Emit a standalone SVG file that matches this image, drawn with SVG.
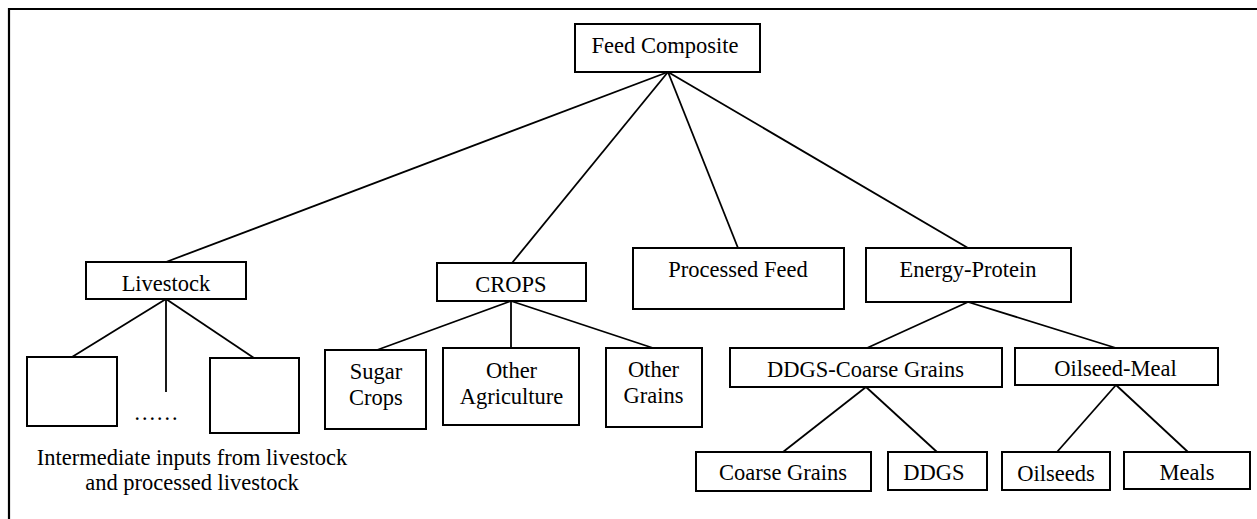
<svg xmlns="http://www.w3.org/2000/svg" width="1257" height="519" viewBox="0 0 1257 519">
<style>
.box{fill:#fff;stroke:#000;stroke-width:2}
.ln{stroke:#000;stroke-width:1.8;fill:none}
.t{font-family:'Liberation Serif','Times New Roman',Times,serif;font-size:22.5px;fill:#000;text-anchor:middle}
</style>
<rect width="1257" height="519" fill="#fff"/>
<path d="M9,519 V9 H1257" fill="none" stroke="#000" stroke-width="2.2"/>
<g id="connectors" class="ln">
<line x1="668" y1="72" x2="166" y2="262"/>
<line x1="668" y1="72" x2="512" y2="263"/>
<line x1="668" y1="72" x2="738" y2="248"/>
<line x1="668" y1="72" x2="968" y2="248"/>
<line x1="166" y1="299" x2="72" y2="357"/>
<line x1="166" y1="299" x2="166" y2="392"/>
<line x1="166" y1="299" x2="254" y2="358"/>
<line x1="511" y1="301" x2="377" y2="350"/>
<line x1="511" y1="301" x2="511" y2="348"/>
<line x1="511" y1="301" x2="653" y2="348"/>
<line x1="968" y1="302" x2="867" y2="348"/>
<line x1="968" y1="302" x2="1116" y2="348"/>
<line x1="866" y1="387" x2="783" y2="452"/>
<line x1="866" y1="387" x2="937" y2="452"/>
<line x1="1116" y1="385" x2="1057" y2="452"/>
<line x1="1116" y1="385" x2="1188" y2="452"/>
</g>
<g class="t" font-family="Liberation Serif, serif">
<g id="feed-composite"><rect class="box" x="575" y="24" width="185" height="48"/><text x="665" y="53">Feed Composite</text></g>
<g id="livestock"><rect class="box" x="86" y="262" width="160" height="37"/><text x="166" y="291">Livestock</text></g>
<g id="livestock-a"><rect class="box" x="27" y="357" width="90" height="69"/></g>
<g id="livestock-b"><rect class="box" x="210" y="358" width="89" height="75"/></g>
<g id="livestock-dots"><text x="156" y="420">……</text></g>
<g id="livestock-caption"><text x="192" y="465">Intermediate inputs from livestock</text><text x="192" y="490">and processed livestock</text></g>
<g id="crops"><rect class="box" x="437" y="263" width="149" height="38"/><text x="511" y="292">CROPS</text></g>
<g id="sugar-crops"><rect class="box" x="325" y="350" width="101" height="79"/><text x="376" y="379">Sugar</text><text x="376" y="405">Crops</text></g>
<g id="other-agriculture"><rect class="box" x="443" y="348" width="136" height="77"/><text x="511.5" y="378">Other</text><text x="511.5" y="404">Agriculture</text></g>
<g id="other-grains"><rect class="box" x="606" y="348" width="96" height="79"/><text x="653.5" y="377">Other</text><text x="653.5" y="403">Grains</text></g>
<g id="processed-feed"><rect class="box" x="633" y="248" width="211" height="61"/><text x="738" y="277">Processed Feed</text></g>
<g id="energy-protein"><rect class="box" x="866" y="248" width="205" height="54"/><text x="968" y="277">Energy-Protein</text></g>
<g id="ddgs-coarse-grains"><rect class="box" x="730" y="348" width="272" height="39"/><text x="865.5" y="377">DDGS-Coarse Grains</text></g>
<g id="oilseed-meal"><rect class="box" x="1015" y="348" width="203" height="37"/><text x="1115.5" y="376">Oilseed-Meal</text></g>
<g id="coarse-grains"><rect class="box" x="696" y="452" width="175" height="39"/><text x="783" y="480">Coarse Grains</text></g>
<g id="ddgs"><rect class="box" x="888" y="452" width="99" height="38"/><text x="934" y="480">DDGS</text></g>
<g id="oilseeds"><rect class="box" x="1002" y="452" width="108" height="38"/><text x="1056" y="481">Oilseeds</text></g>
<g id="meals"><rect class="box" x="1124" y="452" width="126" height="37"/><text x="1187" y="480">Meals</text></g>
</g>
</svg>
